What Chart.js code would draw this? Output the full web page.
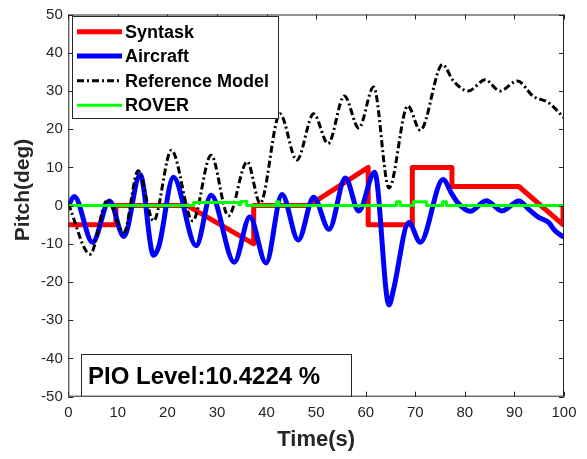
<!DOCTYPE html>
<html><head><meta charset="utf-8">
<script src="https://cdn.jsdelivr.net/npm/chart.js@4.4.1/dist/chart.umd.min.js"></script>
<style>html,body{margin:0;padding:0;background:#fff;}canvas{display:block;}</style>
</head><body>
<canvas id="c" width="587" height="459" style="width:587px;height:459px"></canvas>
<script>
// ---- data ----
const xTicks = [0,10,20,30,40,50,60,70,80,90,100];
const yTicks = [-50,-40,-30,-20,-10,0,10,20,30,40,50];
const seriesNames = ['Syntask','Aircraft','Reference Model','ROVER'];

const syntaskT = [0,9.6,9.6,24,37.4,37.4,48.5,60.5,60.5,69.4,69.4,77.4,77.4,90.9,99.8,99.8];
const syntaskV = [-5,-5,0,0,-10,0,0,10,-5,-5,10,10,5,5,-5,0];

const aircraftT = [0,1.2,4.9,8.3,11.2,14.5,17.2,18.3,21.2,25.8,28.8,33.5,36.6,39.9,43.1,46.4,49.5,52.6,55.9,58.6,61.8,64.7,65.6,68.7,71,75.6,77.4,78.8,81.1,84.3,87.5,90.9,92.9,94.9,96.9,98.2,100];
const aircraftV = [0,2.4,-9.6,1.2,-8.1,8.1,-13,-10.5,7.4,-10.5,2.7,-14.8,-3.0,-15,2.9,-9,2.2,-6.2,7.2,-1.4,8.7,-26,-22,-4.4,-9.6,6.8,3,0.4,-1.5,1.3,-1.4,1.2,-1,-3.1,-4.4,-6.6,-8.3];

const referenceT = [0,4.4,7.9,11.2,14.1,17.2,20.8,25.1,28.8,32.3,36.1,38.7,42.7,46.1,49.5,52.4,55.7,58.6,61.6,64.7,68.5,71,75.5,77.7,80.7,84.1,87.1,90.6,93.8,96.8,100];
const referenceV = [0.5,-12.7,1.5,-7,9.1,-4,14.5,-4,13.2,-2.7,11.5,0.6,24,11.9,24,16.2,28.7,20.3,31,4.6,26.1,19.7,36.9,32.6,30,32.9,30,32.6,28.6,27,23];

const roverT = [0,25.3,25.3,34.4,34.4,34.8,34.8,36,36,42,42,42.5,42.5,66.2,66.2,67,67,69.6,69.6,72.3,72.3,75.5,75.5,76.3,76.3,100];
const roverV = [0,0,0.8,0.8,0.3,0.3,1.1,1.1,0,0,1,1,0,0,1,1,0,0,1,1,0,0,1,1,0,0];

const xTitle = 'Time(s)';
const yTitle = 'Pitch(deg)';
const pioText = 'PIO Level:10.4224 %';

// ---- chart ----
const FONT = '"Liberation Sans", Arial, sans-serif';
const AX = '#262626';
function pts(t, v){ return t.map((x,i)=>({x:x, y:v[i]})); }

const styles = [
  {color:'#ff0000', width:5, dash:[]},
  {color:'#0000ff', width:5, dash:[]},
  {color:'#000000', width:3, dash:[7,3,2,3]},
  {color:'#00ff00', width:3, dash:[]}
];

const decor = {
  id:'decor',
  afterDraw(chart){
    const ctx = chart.ctx, a = chart.chartArea;
    const xs = chart.scales.x, ys = chart.scales.y;
    ctx.save();
    ctx.strokeStyle = AX; ctx.lineWidth = 1;
    // box
    ctx.strokeRect(a.left+0.5, a.top+0.5, a.right-a.left-1, a.bottom-a.top-1);
    // inward ticks
    ctx.beginPath();
    xTicks.forEach(v=>{
      const px = Math.round(xs.getPixelForValue(v))+0.5;
      ctx.moveTo(px, a.bottom); ctx.lineTo(px, a.bottom-5);
      ctx.moveTo(px, a.top); ctx.lineTo(px, a.top+5);
    });
    yTicks.forEach(v=>{
      const py = Math.round(ys.getPixelForValue(v))+0.5;
      ctx.moveTo(a.left, py); ctx.lineTo(a.left+5, py);
      ctx.moveTo(a.right, py); ctx.lineTo(a.right-5, py);
    });
    ctx.stroke();

    // y title
    ctx.save();
    ctx.translate(23, 190); ctx.rotate(-Math.PI/2);
    ctx.fillStyle = AX; ctx.font = 'bold 21px '+FONT;
    ctx.textAlign='center'; ctx.textBaseline='middle';
    ctx.fillText(yTitle, 0, 0);
    ctx.restore();

    // legend box
    const lx=72, ly=16, lw=206, lh=102;
    ctx.fillStyle='#fff'; ctx.fillRect(lx,ly,lw,lh);
    ctx.strokeStyle=AX; ctx.lineWidth=1;
    ctx.strokeRect(lx+0.5,ly+0.5,lw,lh);
    const rows=[31.7,56,80.7,105.3];
    ctx.font='bold 18px '+FONT; ctx.textBaseline='middle'; ctx.textAlign='left';
    seriesNames.forEach((n,i)=>{
      const s=styles[i];
      ctx.beginPath(); ctx.strokeStyle=s.color; ctx.lineWidth=s.width; ctx.setLineDash(s.dash);
      ctx.moveTo(77,rows[i]); ctx.lineTo(122,rows[i]); ctx.stroke();
      ctx.setLineDash([]);
      ctx.fillStyle='#000'; ctx.fillText(n,125,rows[i]+1);
    });

    // PIO box
    const bx=81, by=354, bw=270, bh=a.bottom-354;
    ctx.fillStyle='#fff'; ctx.fillRect(bx,by,bw,bh);
    ctx.strokeStyle=AX; ctx.lineWidth=1;
    ctx.strokeRect(bx+0.5,by+0.5,bw,bh-1);
    ctx.fillStyle='#000'; ctx.font='bold 24px '+FONT; ctx.textBaseline='alphabetic';
    ctx.fillText(pioText, 88, 384);
    ctx.restore();
  }
};

new Chart(document.getElementById('c'), {
  type:'line',
  data:{ datasets:[
    {label:seriesNames[0], data:pts(syntaskT,syntaskV), borderColor:styles[0].color, borderWidth:5, tension:0, order:4},
    {label:seriesNames[1], data:pts(aircraftT,aircraftV), borderColor:styles[1].color, borderWidth:5, cubicInterpolationMode:'monotone', order:3},
    {label:seriesNames[2], data:pts(referenceT,referenceV), borderColor:styles[2].color, borderWidth:3, borderDash:styles[2].dash, cubicInterpolationMode:'monotone', order:2},
    {label:seriesNames[3], data:pts(roverT,roverV), borderColor:styles[3].color, borderWidth:3, tension:0, order:1}
  ]},
  options:{
    responsive:false, animation:false, devicePixelRatio:1,
    elements:{point:{radius:0}, line:{borderJoinStyle:'round', borderCapStyle:'butt'}},
    layout:{padding:{left:0, top:11.5, right:23, bottom:0}},
    plugins:{legend:{display:false}, tooltip:{enabled:false}},
    scales:{
      x:{type:'linear', min:0, max:100,
        afterBuildTicks:s=>{s.ticks=xTicks.map(v=>({value:v}));},
        afterFit:s=>{s.height=62.3;},
        grid:{display:false, drawTicks:false}, border:{display:false},
        ticks:{padding:7, autoSkip:false, maxRotation:0, color:AX, font:{family:FONT, size:15}},
        title:{display:true, text:xTitle, color:AX, font:{family:FONT, size:22, weight:'bold'}, padding:{top:0,bottom:6}}
      },
      y:{type:'linear', min:-50, max:50,
        afterBuildTicks:s=>{s.ticks=yTicks.map(v=>({value:v}));},
        afterFit:s=>{s.width=68.3;},
        grid:{display:false, drawTicks:false}, border:{display:false},
        ticks:{padding:5.5, color:AX, font:{family:FONT, size:15}},
        title:{display:false}
      }
    }
  },
  plugins:[decor]
});
</script>
</body></html>
